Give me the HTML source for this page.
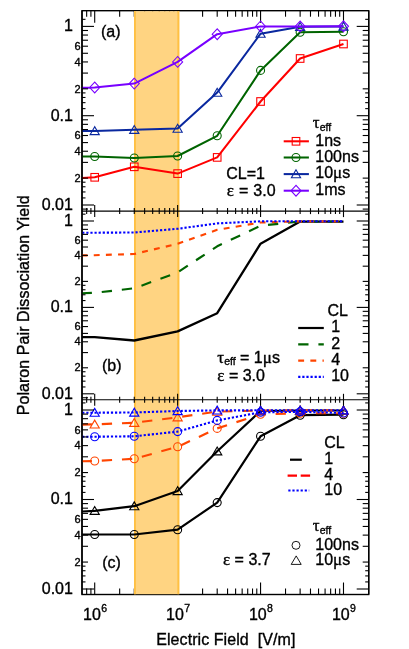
<!DOCTYPE html>
<html><head><meta charset="utf-8"><title>Polaron Pair Dissociation Yield</title>
<style>html,body{margin:0;padding:0;background:#fff}svg{display:block;will-change:transform}text{font-family:"Liberation Sans",sans-serif;fill:#000;stroke:#000;stroke-width:0.35px}</style>
</head><body>
<svg width="409" height="649" viewBox="0 0 409 649">
<rect width="409" height="649" fill="#fff"/>
<rect x="82.0" y="10.7" width="286.7" height="583.8" fill="none" stroke="#000" stroke-width="1.4"/>
<line x1="86.66" y1="10.70" x2="86.66" y2="16.70" stroke="#000" stroke-width="1.1" />
<line x1="90.91" y1="10.70" x2="90.91" y2="16.70" stroke="#000" stroke-width="1.1" />
<line x1="94.70" y1="10.70" x2="94.70" y2="22.70" stroke="#000" stroke-width="1.1" />
<line x1="119.66" y1="10.70" x2="119.66" y2="16.70" stroke="#000" stroke-width="1.1" />
<line x1="134.27" y1="10.70" x2="134.27" y2="16.70" stroke="#000" stroke-width="1.1" />
<line x1="144.63" y1="10.70" x2="144.63" y2="16.70" stroke="#000" stroke-width="1.1" />
<line x1="152.67" y1="10.70" x2="152.67" y2="16.70" stroke="#000" stroke-width="1.1" />
<line x1="159.23" y1="10.70" x2="159.23" y2="16.70" stroke="#000" stroke-width="1.1" />
<line x1="164.78" y1="10.70" x2="164.78" y2="16.70" stroke="#000" stroke-width="1.1" />
<line x1="169.59" y1="10.70" x2="169.59" y2="16.70" stroke="#000" stroke-width="1.1" />
<line x1="173.84" y1="10.70" x2="173.84" y2="16.70" stroke="#000" stroke-width="1.1" />
<line x1="177.63" y1="10.70" x2="177.63" y2="22.70" stroke="#000" stroke-width="1.1" />
<line x1="202.59" y1="10.70" x2="202.59" y2="16.70" stroke="#000" stroke-width="1.1" />
<line x1="217.20" y1="10.70" x2="217.20" y2="16.70" stroke="#000" stroke-width="1.1" />
<line x1="227.56" y1="10.70" x2="227.56" y2="16.70" stroke="#000" stroke-width="1.1" />
<line x1="235.60" y1="10.70" x2="235.60" y2="16.70" stroke="#000" stroke-width="1.1" />
<line x1="242.16" y1="10.70" x2="242.16" y2="16.70" stroke="#000" stroke-width="1.1" />
<line x1="247.71" y1="10.70" x2="247.71" y2="16.70" stroke="#000" stroke-width="1.1" />
<line x1="252.52" y1="10.70" x2="252.52" y2="16.70" stroke="#000" stroke-width="1.1" />
<line x1="256.77" y1="10.70" x2="256.77" y2="16.70" stroke="#000" stroke-width="1.1" />
<line x1="260.56" y1="10.70" x2="260.56" y2="22.70" stroke="#000" stroke-width="1.1" />
<line x1="285.52" y1="10.70" x2="285.52" y2="16.70" stroke="#000" stroke-width="1.1" />
<line x1="300.13" y1="10.70" x2="300.13" y2="16.70" stroke="#000" stroke-width="1.1" />
<line x1="310.49" y1="10.70" x2="310.49" y2="16.70" stroke="#000" stroke-width="1.1" />
<line x1="318.53" y1="10.70" x2="318.53" y2="16.70" stroke="#000" stroke-width="1.1" />
<line x1="325.09" y1="10.70" x2="325.09" y2="16.70" stroke="#000" stroke-width="1.1" />
<line x1="330.64" y1="10.70" x2="330.64" y2="16.70" stroke="#000" stroke-width="1.1" />
<line x1="335.45" y1="10.70" x2="335.45" y2="16.70" stroke="#000" stroke-width="1.1" />
<line x1="339.70" y1="10.70" x2="339.70" y2="16.70" stroke="#000" stroke-width="1.1" />
<line x1="343.49" y1="10.70" x2="343.49" y2="22.70" stroke="#000" stroke-width="1.1" />
<line x1="86.66" y1="594.50" x2="86.66" y2="588.50" stroke="#000" stroke-width="1.1" />
<line x1="90.91" y1="594.50" x2="90.91" y2="588.50" stroke="#000" stroke-width="1.1" />
<line x1="94.70" y1="594.50" x2="94.70" y2="582.50" stroke="#000" stroke-width="1.1" />
<line x1="119.66" y1="594.50" x2="119.66" y2="588.50" stroke="#000" stroke-width="1.1" />
<line x1="134.27" y1="594.50" x2="134.27" y2="588.50" stroke="#000" stroke-width="1.1" />
<line x1="144.63" y1="594.50" x2="144.63" y2="588.50" stroke="#000" stroke-width="1.1" />
<line x1="152.67" y1="594.50" x2="152.67" y2="588.50" stroke="#000" stroke-width="1.1" />
<line x1="159.23" y1="594.50" x2="159.23" y2="588.50" stroke="#000" stroke-width="1.1" />
<line x1="164.78" y1="594.50" x2="164.78" y2="588.50" stroke="#000" stroke-width="1.1" />
<line x1="169.59" y1="594.50" x2="169.59" y2="588.50" stroke="#000" stroke-width="1.1" />
<line x1="173.84" y1="594.50" x2="173.84" y2="588.50" stroke="#000" stroke-width="1.1" />
<line x1="177.63" y1="594.50" x2="177.63" y2="582.50" stroke="#000" stroke-width="1.1" />
<line x1="202.59" y1="594.50" x2="202.59" y2="588.50" stroke="#000" stroke-width="1.1" />
<line x1="217.20" y1="594.50" x2="217.20" y2="588.50" stroke="#000" stroke-width="1.1" />
<line x1="227.56" y1="594.50" x2="227.56" y2="588.50" stroke="#000" stroke-width="1.1" />
<line x1="235.60" y1="594.50" x2="235.60" y2="588.50" stroke="#000" stroke-width="1.1" />
<line x1="242.16" y1="594.50" x2="242.16" y2="588.50" stroke="#000" stroke-width="1.1" />
<line x1="247.71" y1="594.50" x2="247.71" y2="588.50" stroke="#000" stroke-width="1.1" />
<line x1="252.52" y1="594.50" x2="252.52" y2="588.50" stroke="#000" stroke-width="1.1" />
<line x1="256.77" y1="594.50" x2="256.77" y2="588.50" stroke="#000" stroke-width="1.1" />
<line x1="260.56" y1="594.50" x2="260.56" y2="582.50" stroke="#000" stroke-width="1.1" />
<line x1="285.52" y1="594.50" x2="285.52" y2="588.50" stroke="#000" stroke-width="1.1" />
<line x1="300.13" y1="594.50" x2="300.13" y2="588.50" stroke="#000" stroke-width="1.1" />
<line x1="310.49" y1="594.50" x2="310.49" y2="588.50" stroke="#000" stroke-width="1.1" />
<line x1="318.53" y1="594.50" x2="318.53" y2="588.50" stroke="#000" stroke-width="1.1" />
<line x1="325.09" y1="594.50" x2="325.09" y2="588.50" stroke="#000" stroke-width="1.1" />
<line x1="330.64" y1="594.50" x2="330.64" y2="588.50" stroke="#000" stroke-width="1.1" />
<line x1="335.45" y1="594.50" x2="335.45" y2="588.50" stroke="#000" stroke-width="1.1" />
<line x1="339.70" y1="594.50" x2="339.70" y2="588.50" stroke="#000" stroke-width="1.1" />
<line x1="343.49" y1="594.50" x2="343.49" y2="582.50" stroke="#000" stroke-width="1.1" />
<rect x="134.0" y="11.2" width="45.30000000000001" height="583.0" fill="#FFD482"/>
<rect x="134.0" y="11.2" width="1.9" height="583.0" fill="#FFC043"/>
<rect x="177.4" y="11.2" width="1.9" height="583.0" fill="#FFC043"/>
<clipPath id="cp"><rect x="82.0" y="10.7" width="286.7" height="583.8"/></clipPath><g clip-path="url(#cp)">
<polyline points="81.60,178.00 94.70,177.30 134.27,166.80 177.63,173.60 217.20,157.40 260.56,101.50 300.13,58.50 343.49,44.00" fill="none" stroke="#FF0000" stroke-width="2.05" stroke-linejoin="round" />
<rect x="90.90" y="173.50" width="7.6" height="7.6" fill="none" stroke="#FF0000" stroke-width="1.1"/>
<rect x="130.47" y="163.00" width="7.6" height="7.6" fill="none" stroke="#FF0000" stroke-width="1.1"/>
<rect x="173.83" y="169.80" width="7.6" height="7.6" fill="none" stroke="#FF0000" stroke-width="1.1"/>
<rect x="213.40" y="153.60" width="7.6" height="7.6" fill="none" stroke="#FF0000" stroke-width="1.1"/>
<rect x="256.76" y="97.70" width="7.6" height="7.6" fill="none" stroke="#FF0000" stroke-width="1.1"/>
<rect x="296.33" y="54.70" width="7.6" height="7.6" fill="none" stroke="#FF0000" stroke-width="1.1"/>
<rect x="339.69" y="40.20" width="7.6" height="7.6" fill="none" stroke="#FF0000" stroke-width="1.1"/>
<polyline points="81.60,156.40 94.70,156.50 134.27,158.00 177.63,156.00 217.20,135.80 260.56,70.40 300.13,32.20 343.49,31.80" fill="none" stroke="#006400" stroke-width="2.05" stroke-linejoin="round" />
<circle cx="94.70" cy="156.50" r="4" fill="none" stroke="#006400" stroke-width="1.1"/>
<circle cx="134.27" cy="158.00" r="4" fill="none" stroke="#006400" stroke-width="1.1"/>
<circle cx="177.63" cy="156.00" r="4" fill="none" stroke="#006400" stroke-width="1.1"/>
<circle cx="217.20" cy="135.80" r="4" fill="none" stroke="#006400" stroke-width="1.1"/>
<circle cx="260.56" cy="70.40" r="4" fill="none" stroke="#006400" stroke-width="1.1"/>
<circle cx="300.13" cy="32.20" r="4" fill="none" stroke="#006400" stroke-width="1.1"/>
<circle cx="343.49" cy="31.80" r="4" fill="none" stroke="#006400" stroke-width="1.1"/>
<polyline points="81.60,131.10 94.70,131.00 134.27,129.80 177.63,128.60 217.20,92.60 260.56,33.70 300.13,26.80 343.49,26.50" fill="none" stroke="#0A289F" stroke-width="2.05" stroke-linejoin="round" />
<polygon points="94.70,126.70 90.10,134.60 99.30,134.60" fill="none" stroke="#0A289F" stroke-width="1.1"/>
<polygon points="134.27,125.50 129.67,133.40 138.87,133.40" fill="none" stroke="#0A289F" stroke-width="1.1"/>
<polygon points="177.63,124.30 173.03,132.20 182.23,132.20" fill="none" stroke="#0A289F" stroke-width="1.1"/>
<polygon points="217.20,88.30 212.60,96.20 221.80,96.20" fill="none" stroke="#0A289F" stroke-width="1.1"/>
<polygon points="260.56,29.40 255.96,37.30 265.16,37.30" fill="none" stroke="#0A289F" stroke-width="1.1"/>
<polygon points="300.13,22.50 295.53,30.40 304.73,30.40" fill="none" stroke="#0A289F" stroke-width="1.1"/>
<polygon points="343.49,22.20 338.89,30.10 348.09,30.10" fill="none" stroke="#0A289F" stroke-width="1.1"/>
<polyline points="81.60,87.90 94.70,87.50 134.27,83.60 177.63,61.90 217.20,34.20 260.56,26.40 300.13,26.50 343.49,26.30" fill="none" stroke="#7800FF" stroke-width="2.05" stroke-linejoin="round" />
<polygon points="94.70,82.10 89.70,87.50 94.70,92.90 99.70,87.50" fill="none" stroke="#7800FF" stroke-width="1.1"/>
<polygon points="134.27,78.20 129.27,83.60 134.27,89.00 139.27,83.60" fill="none" stroke="#7800FF" stroke-width="1.1"/>
<polygon points="177.63,56.50 172.63,61.90 177.63,67.30 182.63,61.90" fill="none" stroke="#7800FF" stroke-width="1.1"/>
<polygon points="217.20,28.80 212.20,34.20 217.20,39.60 222.20,34.20" fill="none" stroke="#7800FF" stroke-width="1.1"/>
<polygon points="260.56,21.00 255.56,26.40 260.56,31.80 265.56,26.40" fill="none" stroke="#7800FF" stroke-width="1.1"/>
<polygon points="300.13,21.10 295.13,26.50 300.13,31.90 305.13,26.50" fill="none" stroke="#7800FF" stroke-width="1.1"/>
<polygon points="343.49,20.90 338.49,26.30 343.49,31.70 348.49,26.30" fill="none" stroke="#7800FF" stroke-width="1.1"/>
<polyline points="81.60,337.20 94.70,337.20 134.27,340.50 177.63,331.40 217.20,313.20 260.56,243.70 300.13,221.60 343.49,221.60" fill="none" stroke="#000" stroke-width="2.3" stroke-linejoin="round" />
<polyline points="81.60,293.30 94.70,292.80 134.27,288.30 177.63,272.40 217.20,246.30 260.56,225.70 300.13,221.50 343.49,221.50" fill="none" stroke="#006400" stroke-width="2.15" stroke-linejoin="round" stroke-dasharray="10.3 9.9" stroke-dashoffset="0"/>
<polyline points="81.60,255.40 94.70,255.20 134.27,254.00 177.63,243.80 217.20,229.80 260.56,222.50 300.13,221.30 343.49,221.30" fill="none" stroke="#FF4500" stroke-width="2.15" stroke-linejoin="round" stroke-dasharray="5.9 6.25" stroke-dashoffset="0"/>
<polyline points="81.60,232.80 94.70,232.70 134.27,232.50 177.63,228.80 217.20,223.40 260.56,221.30 300.13,221.20 343.49,221.20" fill="none" stroke="#0000FF" stroke-width="2.1" stroke-linejoin="round" stroke-dasharray="2.2 1.9" stroke-dashoffset="-0.6"/>
<polyline points="81.60,534.50 94.70,534.50 134.27,534.50 177.63,529.70 217.20,502.60 260.56,436.30 300.13,415.20 343.49,414.70" fill="none" stroke="#000" stroke-width="2.2" stroke-linejoin="round" />
<circle cx="94.70" cy="534.50" r="4" fill="none" stroke="#000" stroke-width="1.1"/>
<circle cx="134.27" cy="534.50" r="4" fill="none" stroke="#000" stroke-width="1.1"/>
<circle cx="177.63" cy="529.70" r="4" fill="none" stroke="#000" stroke-width="1.1"/>
<circle cx="217.20" cy="502.60" r="4" fill="none" stroke="#000" stroke-width="1.1"/>
<circle cx="260.56" cy="436.30" r="4" fill="none" stroke="#000" stroke-width="1.1"/>
<circle cx="300.13" cy="415.20" r="4" fill="none" stroke="#000" stroke-width="1.1"/>
<circle cx="343.49" cy="414.70" r="4" fill="none" stroke="#000" stroke-width="1.1"/>
<polyline points="81.60,511.50 94.70,510.80 134.27,506.20 177.63,491.00 217.20,451.30 260.56,411.00 300.13,410.50 343.49,410.50" fill="none" stroke="#000" stroke-width="2.2" stroke-linejoin="round" />
<polygon points="94.70,506.50 90.10,514.40 99.30,514.40" fill="none" stroke="#000" stroke-width="1.1"/>
<polygon points="134.27,501.90 129.67,509.80 138.87,509.80" fill="none" stroke="#000" stroke-width="1.1"/>
<polygon points="177.63,486.70 173.03,494.60 182.23,494.60" fill="none" stroke="#000" stroke-width="1.1"/>
<polygon points="217.20,447.00 212.60,454.90 221.80,454.90" fill="none" stroke="#000" stroke-width="1.1"/>
<polygon points="260.56,406.70 255.96,414.60 265.16,414.60" fill="none" stroke="#000" stroke-width="1.1"/>
<polygon points="300.13,406.20 295.53,414.10 304.73,414.10" fill="none" stroke="#000" stroke-width="1.1"/>
<polygon points="343.49,406.20 338.89,414.10 348.09,414.10" fill="none" stroke="#000" stroke-width="1.1"/>
<polyline points="81.60,461.30 94.70,461.00 134.27,458.80 177.63,446.80 217.20,428.40 260.56,414.30 300.13,413.30 343.49,413.20" fill="none" stroke="#FF4500" stroke-width="2.15" stroke-linejoin="round" stroke-dasharray="10.3 9.9" stroke-dashoffset="0"/>
<circle cx="94.70" cy="461.00" r="4" fill="none" stroke="#FF4500" stroke-width="1.1"/>
<circle cx="134.27" cy="458.80" r="4" fill="none" stroke="#FF4500" stroke-width="1.1"/>
<circle cx="177.63" cy="446.80" r="4" fill="none" stroke="#FF4500" stroke-width="1.1"/>
<circle cx="217.20" cy="428.40" r="4" fill="none" stroke="#FF4500" stroke-width="1.1"/>
<circle cx="260.56" cy="414.30" r="4" fill="none" stroke="#FF4500" stroke-width="1.1"/>
<circle cx="300.13" cy="413.30" r="4" fill="none" stroke="#FF4500" stroke-width="1.1"/>
<circle cx="343.49" cy="413.20" r="4" fill="none" stroke="#FF4500" stroke-width="1.1"/>
<polyline points="81.60,424.60 94.70,424.40 134.27,422.80 177.63,417.30 217.20,411.60 260.56,410.60 300.13,410.40 343.49,410.40" fill="none" stroke="#FF4500" stroke-width="2.15" stroke-linejoin="round" stroke-dasharray="10.3 9.9" stroke-dashoffset="0"/>
<polygon points="94.70,420.10 90.10,428.00 99.30,428.00" fill="none" stroke="#FF4500" stroke-width="1.1"/>
<polygon points="134.27,418.50 129.67,426.40 138.87,426.40" fill="none" stroke="#FF4500" stroke-width="1.1"/>
<polygon points="177.63,413.00 173.03,420.90 182.23,420.90" fill="none" stroke="#FF4500" stroke-width="1.1"/>
<polygon points="217.20,407.30 212.60,415.20 221.80,415.20" fill="none" stroke="#FF4500" stroke-width="1.1"/>
<polygon points="260.56,406.30 255.96,414.20 265.16,414.20" fill="none" stroke="#FF4500" stroke-width="1.1"/>
<polygon points="300.13,406.10 295.53,414.00 304.73,414.00" fill="none" stroke="#FF4500" stroke-width="1.1"/>
<polygon points="343.49,406.10 338.89,414.00 348.09,414.00" fill="none" stroke="#FF4500" stroke-width="1.1"/>
<polyline points="81.60,436.70 94.70,436.70 134.27,436.30 177.63,431.60 217.20,420.40 260.56,412.30 300.13,411.80 343.49,413.00" fill="none" stroke="#0000FF" stroke-width="2.1" stroke-linejoin="round" stroke-dasharray="2.2 1.9" stroke-dashoffset="-0.6"/>
<circle cx="94.70" cy="436.70" r="4" fill="none" stroke="#0000FF" stroke-width="1.1"/>
<circle cx="134.27" cy="436.30" r="4" fill="none" stroke="#0000FF" stroke-width="1.1"/>
<circle cx="177.63" cy="431.60" r="4" fill="none" stroke="#0000FF" stroke-width="1.1"/>
<circle cx="217.20" cy="420.40" r="4" fill="none" stroke="#0000FF" stroke-width="1.1"/>
<circle cx="260.56" cy="412.30" r="4" fill="none" stroke="#0000FF" stroke-width="1.1"/>
<circle cx="300.13" cy="411.80" r="4" fill="none" stroke="#0000FF" stroke-width="1.1"/>
<circle cx="343.49" cy="413.00" r="4" fill="none" stroke="#0000FF" stroke-width="1.1"/>
<polyline points="81.60,412.80 94.70,412.70 134.27,412.50 177.63,411.00 217.20,410.40 260.56,410.30 300.13,410.30 343.49,410.30" fill="none" stroke="#0000FF" stroke-width="2.1" stroke-linejoin="round" stroke-dasharray="2.2 1.9" stroke-dashoffset="-0.6"/>
<polygon points="94.70,408.40 90.10,416.30 99.30,416.30" fill="none" stroke="#0000FF" stroke-width="1.1"/>
<polygon points="134.27,408.20 129.67,416.10 138.87,416.10" fill="none" stroke="#0000FF" stroke-width="1.1"/>
<polygon points="177.63,406.70 173.03,414.60 182.23,414.60" fill="none" stroke="#0000FF" stroke-width="1.1"/>
<polygon points="217.20,406.10 212.60,414.00 221.80,414.00" fill="none" stroke="#0000FF" stroke-width="1.1"/>
<polygon points="260.56,406.00 255.96,413.90 265.16,413.90" fill="none" stroke="#0000FF" stroke-width="1.1"/>
<polygon points="300.13,406.00 295.53,413.90 304.73,413.90" fill="none" stroke="#0000FF" stroke-width="1.1"/>
<polygon points="343.49,406.00 338.89,413.90 348.09,413.90" fill="none" stroke="#0000FF" stroke-width="1.1"/>
</g>
<line x1="82.00" y1="211.10" x2="368.70" y2="211.10" stroke="#000" stroke-width="1.1" />
<line x1="86.66" y1="211.10" x2="86.66" y2="214.10" stroke="#000" stroke-width="1.1" />
<line x1="86.66" y1="211.10" x2="86.66" y2="208.10" stroke="#000" stroke-width="1.1" />
<line x1="90.91" y1="211.10" x2="90.91" y2="214.10" stroke="#000" stroke-width="1.1" />
<line x1="90.91" y1="211.10" x2="90.91" y2="208.10" stroke="#000" stroke-width="1.1" />
<line x1="94.70" y1="211.10" x2="94.70" y2="217.10" stroke="#000" stroke-width="1.1" />
<line x1="94.70" y1="211.10" x2="94.70" y2="205.10" stroke="#000" stroke-width="1.1" />
<line x1="119.66" y1="211.10" x2="119.66" y2="214.10" stroke="#000" stroke-width="1.1" />
<line x1="119.66" y1="211.10" x2="119.66" y2="208.10" stroke="#000" stroke-width="1.1" />
<line x1="134.27" y1="211.10" x2="134.27" y2="214.10" stroke="#000" stroke-width="1.1" />
<line x1="134.27" y1="211.10" x2="134.27" y2="208.10" stroke="#000" stroke-width="1.1" />
<line x1="144.63" y1="211.10" x2="144.63" y2="214.10" stroke="#000" stroke-width="1.1" />
<line x1="144.63" y1="211.10" x2="144.63" y2="208.10" stroke="#000" stroke-width="1.1" />
<line x1="152.67" y1="211.10" x2="152.67" y2="214.10" stroke="#000" stroke-width="1.1" />
<line x1="152.67" y1="211.10" x2="152.67" y2="208.10" stroke="#000" stroke-width="1.1" />
<line x1="159.23" y1="211.10" x2="159.23" y2="214.10" stroke="#000" stroke-width="1.1" />
<line x1="159.23" y1="211.10" x2="159.23" y2="208.10" stroke="#000" stroke-width="1.1" />
<line x1="164.78" y1="211.10" x2="164.78" y2="214.10" stroke="#000" stroke-width="1.1" />
<line x1="164.78" y1="211.10" x2="164.78" y2="208.10" stroke="#000" stroke-width="1.1" />
<line x1="169.59" y1="211.10" x2="169.59" y2="214.10" stroke="#000" stroke-width="1.1" />
<line x1="169.59" y1="211.10" x2="169.59" y2="208.10" stroke="#000" stroke-width="1.1" />
<line x1="173.84" y1="211.10" x2="173.84" y2="214.10" stroke="#000" stroke-width="1.1" />
<line x1="173.84" y1="211.10" x2="173.84" y2="208.10" stroke="#000" stroke-width="1.1" />
<line x1="177.63" y1="211.10" x2="177.63" y2="217.10" stroke="#000" stroke-width="1.1" />
<line x1="177.63" y1="211.10" x2="177.63" y2="205.10" stroke="#000" stroke-width="1.1" />
<line x1="202.59" y1="211.10" x2="202.59" y2="214.10" stroke="#000" stroke-width="1.1" />
<line x1="202.59" y1="211.10" x2="202.59" y2="208.10" stroke="#000" stroke-width="1.1" />
<line x1="217.20" y1="211.10" x2="217.20" y2="214.10" stroke="#000" stroke-width="1.1" />
<line x1="217.20" y1="211.10" x2="217.20" y2="208.10" stroke="#000" stroke-width="1.1" />
<line x1="227.56" y1="211.10" x2="227.56" y2="214.10" stroke="#000" stroke-width="1.1" />
<line x1="227.56" y1="211.10" x2="227.56" y2="208.10" stroke="#000" stroke-width="1.1" />
<line x1="235.60" y1="211.10" x2="235.60" y2="214.10" stroke="#000" stroke-width="1.1" />
<line x1="235.60" y1="211.10" x2="235.60" y2="208.10" stroke="#000" stroke-width="1.1" />
<line x1="242.16" y1="211.10" x2="242.16" y2="214.10" stroke="#000" stroke-width="1.1" />
<line x1="242.16" y1="211.10" x2="242.16" y2="208.10" stroke="#000" stroke-width="1.1" />
<line x1="247.71" y1="211.10" x2="247.71" y2="214.10" stroke="#000" stroke-width="1.1" />
<line x1="247.71" y1="211.10" x2="247.71" y2="208.10" stroke="#000" stroke-width="1.1" />
<line x1="252.52" y1="211.10" x2="252.52" y2="214.10" stroke="#000" stroke-width="1.1" />
<line x1="252.52" y1="211.10" x2="252.52" y2="208.10" stroke="#000" stroke-width="1.1" />
<line x1="256.77" y1="211.10" x2="256.77" y2="214.10" stroke="#000" stroke-width="1.1" />
<line x1="256.77" y1="211.10" x2="256.77" y2="208.10" stroke="#000" stroke-width="1.1" />
<line x1="260.56" y1="211.10" x2="260.56" y2="217.10" stroke="#000" stroke-width="1.1" />
<line x1="260.56" y1="211.10" x2="260.56" y2="205.10" stroke="#000" stroke-width="1.1" />
<line x1="285.52" y1="211.10" x2="285.52" y2="214.10" stroke="#000" stroke-width="1.1" />
<line x1="285.52" y1="211.10" x2="285.52" y2="208.10" stroke="#000" stroke-width="1.1" />
<line x1="300.13" y1="211.10" x2="300.13" y2="214.10" stroke="#000" stroke-width="1.1" />
<line x1="300.13" y1="211.10" x2="300.13" y2="208.10" stroke="#000" stroke-width="1.1" />
<line x1="310.49" y1="211.10" x2="310.49" y2="214.10" stroke="#000" stroke-width="1.1" />
<line x1="310.49" y1="211.10" x2="310.49" y2="208.10" stroke="#000" stroke-width="1.1" />
<line x1="318.53" y1="211.10" x2="318.53" y2="214.10" stroke="#000" stroke-width="1.1" />
<line x1="318.53" y1="211.10" x2="318.53" y2="208.10" stroke="#000" stroke-width="1.1" />
<line x1="325.09" y1="211.10" x2="325.09" y2="214.10" stroke="#000" stroke-width="1.1" />
<line x1="325.09" y1="211.10" x2="325.09" y2="208.10" stroke="#000" stroke-width="1.1" />
<line x1="330.64" y1="211.10" x2="330.64" y2="214.10" stroke="#000" stroke-width="1.1" />
<line x1="330.64" y1="211.10" x2="330.64" y2="208.10" stroke="#000" stroke-width="1.1" />
<line x1="335.45" y1="211.10" x2="335.45" y2="214.10" stroke="#000" stroke-width="1.1" />
<line x1="335.45" y1="211.10" x2="335.45" y2="208.10" stroke="#000" stroke-width="1.1" />
<line x1="339.70" y1="211.10" x2="339.70" y2="214.10" stroke="#000" stroke-width="1.1" />
<line x1="339.70" y1="211.10" x2="339.70" y2="208.10" stroke="#000" stroke-width="1.1" />
<line x1="343.49" y1="211.10" x2="343.49" y2="217.10" stroke="#000" stroke-width="1.1" />
<line x1="343.49" y1="211.10" x2="343.49" y2="205.10" stroke="#000" stroke-width="1.1" />
<line x1="82.00" y1="399.80" x2="368.70" y2="399.80" stroke="#000" stroke-width="1.1" />
<line x1="86.66" y1="399.80" x2="86.66" y2="402.80" stroke="#000" stroke-width="1.1" />
<line x1="86.66" y1="399.80" x2="86.66" y2="396.80" stroke="#000" stroke-width="1.1" />
<line x1="90.91" y1="399.80" x2="90.91" y2="402.80" stroke="#000" stroke-width="1.1" />
<line x1="90.91" y1="399.80" x2="90.91" y2="396.80" stroke="#000" stroke-width="1.1" />
<line x1="94.70" y1="399.80" x2="94.70" y2="405.80" stroke="#000" stroke-width="1.1" />
<line x1="94.70" y1="399.80" x2="94.70" y2="393.80" stroke="#000" stroke-width="1.1" />
<line x1="119.66" y1="399.80" x2="119.66" y2="402.80" stroke="#000" stroke-width="1.1" />
<line x1="119.66" y1="399.80" x2="119.66" y2="396.80" stroke="#000" stroke-width="1.1" />
<line x1="134.27" y1="399.80" x2="134.27" y2="402.80" stroke="#000" stroke-width="1.1" />
<line x1="134.27" y1="399.80" x2="134.27" y2="396.80" stroke="#000" stroke-width="1.1" />
<line x1="144.63" y1="399.80" x2="144.63" y2="402.80" stroke="#000" stroke-width="1.1" />
<line x1="144.63" y1="399.80" x2="144.63" y2="396.80" stroke="#000" stroke-width="1.1" />
<line x1="152.67" y1="399.80" x2="152.67" y2="402.80" stroke="#000" stroke-width="1.1" />
<line x1="152.67" y1="399.80" x2="152.67" y2="396.80" stroke="#000" stroke-width="1.1" />
<line x1="159.23" y1="399.80" x2="159.23" y2="402.80" stroke="#000" stroke-width="1.1" />
<line x1="159.23" y1="399.80" x2="159.23" y2="396.80" stroke="#000" stroke-width="1.1" />
<line x1="164.78" y1="399.80" x2="164.78" y2="402.80" stroke="#000" stroke-width="1.1" />
<line x1="164.78" y1="399.80" x2="164.78" y2="396.80" stroke="#000" stroke-width="1.1" />
<line x1="169.59" y1="399.80" x2="169.59" y2="402.80" stroke="#000" stroke-width="1.1" />
<line x1="169.59" y1="399.80" x2="169.59" y2="396.80" stroke="#000" stroke-width="1.1" />
<line x1="173.84" y1="399.80" x2="173.84" y2="402.80" stroke="#000" stroke-width="1.1" />
<line x1="173.84" y1="399.80" x2="173.84" y2="396.80" stroke="#000" stroke-width="1.1" />
<line x1="177.63" y1="399.80" x2="177.63" y2="405.80" stroke="#000" stroke-width="1.1" />
<line x1="177.63" y1="399.80" x2="177.63" y2="393.80" stroke="#000" stroke-width="1.1" />
<line x1="202.59" y1="399.80" x2="202.59" y2="402.80" stroke="#000" stroke-width="1.1" />
<line x1="202.59" y1="399.80" x2="202.59" y2="396.80" stroke="#000" stroke-width="1.1" />
<line x1="217.20" y1="399.80" x2="217.20" y2="402.80" stroke="#000" stroke-width="1.1" />
<line x1="217.20" y1="399.80" x2="217.20" y2="396.80" stroke="#000" stroke-width="1.1" />
<line x1="227.56" y1="399.80" x2="227.56" y2="402.80" stroke="#000" stroke-width="1.1" />
<line x1="227.56" y1="399.80" x2="227.56" y2="396.80" stroke="#000" stroke-width="1.1" />
<line x1="235.60" y1="399.80" x2="235.60" y2="402.80" stroke="#000" stroke-width="1.1" />
<line x1="235.60" y1="399.80" x2="235.60" y2="396.80" stroke="#000" stroke-width="1.1" />
<line x1="242.16" y1="399.80" x2="242.16" y2="402.80" stroke="#000" stroke-width="1.1" />
<line x1="242.16" y1="399.80" x2="242.16" y2="396.80" stroke="#000" stroke-width="1.1" />
<line x1="247.71" y1="399.80" x2="247.71" y2="402.80" stroke="#000" stroke-width="1.1" />
<line x1="247.71" y1="399.80" x2="247.71" y2="396.80" stroke="#000" stroke-width="1.1" />
<line x1="252.52" y1="399.80" x2="252.52" y2="402.80" stroke="#000" stroke-width="1.1" />
<line x1="252.52" y1="399.80" x2="252.52" y2="396.80" stroke="#000" stroke-width="1.1" />
<line x1="256.77" y1="399.80" x2="256.77" y2="402.80" stroke="#000" stroke-width="1.1" />
<line x1="256.77" y1="399.80" x2="256.77" y2="396.80" stroke="#000" stroke-width="1.1" />
<line x1="260.56" y1="399.80" x2="260.56" y2="405.80" stroke="#000" stroke-width="1.1" />
<line x1="260.56" y1="399.80" x2="260.56" y2="393.80" stroke="#000" stroke-width="1.1" />
<line x1="285.52" y1="399.80" x2="285.52" y2="402.80" stroke="#000" stroke-width="1.1" />
<line x1="285.52" y1="399.80" x2="285.52" y2="396.80" stroke="#000" stroke-width="1.1" />
<line x1="300.13" y1="399.80" x2="300.13" y2="402.80" stroke="#000" stroke-width="1.1" />
<line x1="300.13" y1="399.80" x2="300.13" y2="396.80" stroke="#000" stroke-width="1.1" />
<line x1="310.49" y1="399.80" x2="310.49" y2="402.80" stroke="#000" stroke-width="1.1" />
<line x1="310.49" y1="399.80" x2="310.49" y2="396.80" stroke="#000" stroke-width="1.1" />
<line x1="318.53" y1="399.80" x2="318.53" y2="402.80" stroke="#000" stroke-width="1.1" />
<line x1="318.53" y1="399.80" x2="318.53" y2="396.80" stroke="#000" stroke-width="1.1" />
<line x1="325.09" y1="399.80" x2="325.09" y2="402.80" stroke="#000" stroke-width="1.1" />
<line x1="325.09" y1="399.80" x2="325.09" y2="396.80" stroke="#000" stroke-width="1.1" />
<line x1="330.64" y1="399.80" x2="330.64" y2="402.80" stroke="#000" stroke-width="1.1" />
<line x1="330.64" y1="399.80" x2="330.64" y2="396.80" stroke="#000" stroke-width="1.1" />
<line x1="335.45" y1="399.80" x2="335.45" y2="402.80" stroke="#000" stroke-width="1.1" />
<line x1="335.45" y1="399.80" x2="335.45" y2="396.80" stroke="#000" stroke-width="1.1" />
<line x1="339.70" y1="399.80" x2="339.70" y2="402.80" stroke="#000" stroke-width="1.1" />
<line x1="339.70" y1="399.80" x2="339.70" y2="396.80" stroke="#000" stroke-width="1.1" />
<line x1="343.49" y1="399.80" x2="343.49" y2="405.80" stroke="#000" stroke-width="1.1" />
<line x1="343.49" y1="399.80" x2="343.49" y2="393.80" stroke="#000" stroke-width="1.1" />
<line x1="82.00" y1="10.70" x2="82.00" y2="594.50" stroke="#000" stroke-width="1.4" />
<line x1="368.70" y1="10.70" x2="368.70" y2="594.50" stroke="#000" stroke-width="1.4" />
<line x1="82.00" y1="209.09" x2="88.00" y2="209.09" stroke="#000" stroke-width="1.1" />
<line x1="368.70" y1="209.09" x2="362.70" y2="209.09" stroke="#000" stroke-width="1.1" />
<line x1="82.00" y1="205.00" x2="94.00" y2="205.00" stroke="#000" stroke-width="1.1" />
<line x1="368.70" y1="205.00" x2="356.70" y2="205.00" stroke="#000" stroke-width="1.1" />
<text x="72.90" y="209.90" font-size="16" text-anchor="end" >0.01</text>
<line x1="82.00" y1="197.93" x2="85.50" y2="197.93" stroke="#000" stroke-width="1.1" />
<line x1="368.70" y1="197.93" x2="365.20" y2="197.93" stroke="#000" stroke-width="1.1" />
<line x1="82.00" y1="191.95" x2="85.50" y2="191.95" stroke="#000" stroke-width="1.1" />
<line x1="368.70" y1="191.95" x2="365.20" y2="191.95" stroke="#000" stroke-width="1.1" />
<line x1="82.00" y1="186.77" x2="85.50" y2="186.77" stroke="#000" stroke-width="1.1" />
<line x1="368.70" y1="186.77" x2="365.20" y2="186.77" stroke="#000" stroke-width="1.1" />
<line x1="82.00" y1="182.20" x2="85.50" y2="182.20" stroke="#000" stroke-width="1.1" />
<line x1="368.70" y1="182.20" x2="365.20" y2="182.20" stroke="#000" stroke-width="1.1" />
<line x1="82.00" y1="178.12" x2="88.00" y2="178.12" stroke="#000" stroke-width="1.1" />
<line x1="368.70" y1="178.12" x2="362.70" y2="178.12" stroke="#000" stroke-width="1.1" />
<text x="80.70" y="181.82" font-size="11" text-anchor="end" >2</text>
<line x1="82.00" y1="162.39" x2="88.00" y2="162.39" stroke="#000" stroke-width="1.1" />
<line x1="368.70" y1="162.39" x2="362.70" y2="162.39" stroke="#000" stroke-width="1.1" />
<line x1="82.00" y1="151.24" x2="88.00" y2="151.24" stroke="#000" stroke-width="1.1" />
<line x1="368.70" y1="151.24" x2="362.70" y2="151.24" stroke="#000" stroke-width="1.1" />
<text x="80.70" y="154.94" font-size="11" text-anchor="end" >4</text>
<line x1="82.00" y1="142.58" x2="88.00" y2="142.58" stroke="#000" stroke-width="1.1" />
<line x1="368.70" y1="142.58" x2="362.70" y2="142.58" stroke="#000" stroke-width="1.1" />
<line x1="82.00" y1="135.51" x2="88.00" y2="135.51" stroke="#000" stroke-width="1.1" />
<line x1="368.70" y1="135.51" x2="362.70" y2="135.51" stroke="#000" stroke-width="1.1" />
<text x="80.70" y="139.21" font-size="11" text-anchor="end" >6</text>
<line x1="82.00" y1="129.53" x2="88.00" y2="129.53" stroke="#000" stroke-width="1.1" />
<line x1="368.70" y1="129.53" x2="362.70" y2="129.53" stroke="#000" stroke-width="1.1" />
<line x1="82.00" y1="124.35" x2="88.00" y2="124.35" stroke="#000" stroke-width="1.1" />
<line x1="368.70" y1="124.35" x2="362.70" y2="124.35" stroke="#000" stroke-width="1.1" />
<line x1="82.00" y1="119.79" x2="88.00" y2="119.79" stroke="#000" stroke-width="1.1" />
<line x1="368.70" y1="119.79" x2="362.70" y2="119.79" stroke="#000" stroke-width="1.1" />
<line x1="82.00" y1="115.70" x2="94.00" y2="115.70" stroke="#000" stroke-width="1.1" />
<line x1="368.70" y1="115.70" x2="356.70" y2="115.70" stroke="#000" stroke-width="1.1" />
<text x="72.90" y="120.60" font-size="16" text-anchor="end" >0.1</text>
<line x1="82.00" y1="108.63" x2="85.50" y2="108.63" stroke="#000" stroke-width="1.1" />
<line x1="368.70" y1="108.63" x2="365.20" y2="108.63" stroke="#000" stroke-width="1.1" />
<line x1="82.00" y1="102.65" x2="85.50" y2="102.65" stroke="#000" stroke-width="1.1" />
<line x1="368.70" y1="102.65" x2="365.20" y2="102.65" stroke="#000" stroke-width="1.1" />
<line x1="82.00" y1="97.47" x2="85.50" y2="97.47" stroke="#000" stroke-width="1.1" />
<line x1="368.70" y1="97.47" x2="365.20" y2="97.47" stroke="#000" stroke-width="1.1" />
<line x1="82.00" y1="92.90" x2="85.50" y2="92.90" stroke="#000" stroke-width="1.1" />
<line x1="368.70" y1="92.90" x2="365.20" y2="92.90" stroke="#000" stroke-width="1.1" />
<line x1="82.00" y1="88.82" x2="88.00" y2="88.82" stroke="#000" stroke-width="1.1" />
<line x1="368.70" y1="88.82" x2="362.70" y2="88.82" stroke="#000" stroke-width="1.1" />
<text x="80.70" y="92.52" font-size="11" text-anchor="end" >2</text>
<line x1="82.00" y1="73.09" x2="88.00" y2="73.09" stroke="#000" stroke-width="1.1" />
<line x1="368.70" y1="73.09" x2="362.70" y2="73.09" stroke="#000" stroke-width="1.1" />
<line x1="82.00" y1="61.94" x2="88.00" y2="61.94" stroke="#000" stroke-width="1.1" />
<line x1="368.70" y1="61.94" x2="362.70" y2="61.94" stroke="#000" stroke-width="1.1" />
<text x="80.70" y="65.64" font-size="11" text-anchor="end" >4</text>
<line x1="82.00" y1="53.28" x2="88.00" y2="53.28" stroke="#000" stroke-width="1.1" />
<line x1="368.70" y1="53.28" x2="362.70" y2="53.28" stroke="#000" stroke-width="1.1" />
<line x1="82.00" y1="46.21" x2="88.00" y2="46.21" stroke="#000" stroke-width="1.1" />
<line x1="368.70" y1="46.21" x2="362.70" y2="46.21" stroke="#000" stroke-width="1.1" />
<text x="80.70" y="49.91" font-size="11" text-anchor="end" >6</text>
<line x1="82.00" y1="40.23" x2="88.00" y2="40.23" stroke="#000" stroke-width="1.1" />
<line x1="368.70" y1="40.23" x2="362.70" y2="40.23" stroke="#000" stroke-width="1.1" />
<line x1="82.00" y1="35.05" x2="88.00" y2="35.05" stroke="#000" stroke-width="1.1" />
<line x1="368.70" y1="35.05" x2="362.70" y2="35.05" stroke="#000" stroke-width="1.1" />
<line x1="82.00" y1="30.49" x2="88.00" y2="30.49" stroke="#000" stroke-width="1.1" />
<line x1="368.70" y1="30.49" x2="362.70" y2="30.49" stroke="#000" stroke-width="1.1" />
<line x1="82.00" y1="26.40" x2="94.00" y2="26.40" stroke="#000" stroke-width="1.1" />
<line x1="368.70" y1="26.40" x2="356.70" y2="26.40" stroke="#000" stroke-width="1.1" />
<text x="72.90" y="31.30" font-size="16" text-anchor="end" >1</text>
<line x1="82.00" y1="19.33" x2="85.50" y2="19.33" stroke="#000" stroke-width="1.1" />
<line x1="368.70" y1="19.33" x2="365.20" y2="19.33" stroke="#000" stroke-width="1.1" />
<line x1="82.00" y1="397.75" x2="88.00" y2="397.75" stroke="#000" stroke-width="1.1" />
<line x1="368.70" y1="397.75" x2="362.70" y2="397.75" stroke="#000" stroke-width="1.1" />
<line x1="82.00" y1="393.80" x2="94.00" y2="393.80" stroke="#000" stroke-width="1.1" />
<line x1="368.70" y1="393.80" x2="356.70" y2="393.80" stroke="#000" stroke-width="1.1" />
<text x="72.90" y="398.70" font-size="16" text-anchor="end" >0.01</text>
<line x1="82.00" y1="386.96" x2="85.50" y2="386.96" stroke="#000" stroke-width="1.1" />
<line x1="368.70" y1="386.96" x2="365.20" y2="386.96" stroke="#000" stroke-width="1.1" />
<line x1="82.00" y1="381.17" x2="85.50" y2="381.17" stroke="#000" stroke-width="1.1" />
<line x1="368.70" y1="381.17" x2="365.20" y2="381.17" stroke="#000" stroke-width="1.1" />
<line x1="82.00" y1="376.16" x2="85.50" y2="376.16" stroke="#000" stroke-width="1.1" />
<line x1="368.70" y1="376.16" x2="365.20" y2="376.16" stroke="#000" stroke-width="1.1" />
<line x1="82.00" y1="371.74" x2="85.50" y2="371.74" stroke="#000" stroke-width="1.1" />
<line x1="368.70" y1="371.74" x2="365.20" y2="371.74" stroke="#000" stroke-width="1.1" />
<line x1="82.00" y1="367.79" x2="88.00" y2="367.79" stroke="#000" stroke-width="1.1" />
<line x1="368.70" y1="367.79" x2="362.70" y2="367.79" stroke="#000" stroke-width="1.1" />
<text x="80.70" y="371.49" font-size="11" text-anchor="end" >2</text>
<line x1="82.00" y1="352.58" x2="88.00" y2="352.58" stroke="#000" stroke-width="1.1" />
<line x1="368.70" y1="352.58" x2="362.70" y2="352.58" stroke="#000" stroke-width="1.1" />
<line x1="82.00" y1="341.78" x2="88.00" y2="341.78" stroke="#000" stroke-width="1.1" />
<line x1="368.70" y1="341.78" x2="362.70" y2="341.78" stroke="#000" stroke-width="1.1" />
<text x="80.70" y="345.48" font-size="11" text-anchor="end" >4</text>
<line x1="82.00" y1="333.41" x2="88.00" y2="333.41" stroke="#000" stroke-width="1.1" />
<line x1="368.70" y1="333.41" x2="362.70" y2="333.41" stroke="#000" stroke-width="1.1" />
<line x1="82.00" y1="326.57" x2="88.00" y2="326.57" stroke="#000" stroke-width="1.1" />
<line x1="368.70" y1="326.57" x2="362.70" y2="326.57" stroke="#000" stroke-width="1.1" />
<text x="80.70" y="330.27" font-size="11" text-anchor="end" >6</text>
<line x1="82.00" y1="320.78" x2="88.00" y2="320.78" stroke="#000" stroke-width="1.1" />
<line x1="368.70" y1="320.78" x2="362.70" y2="320.78" stroke="#000" stroke-width="1.1" />
<line x1="82.00" y1="315.77" x2="88.00" y2="315.77" stroke="#000" stroke-width="1.1" />
<line x1="368.70" y1="315.77" x2="362.70" y2="315.77" stroke="#000" stroke-width="1.1" />
<line x1="82.00" y1="311.35" x2="88.00" y2="311.35" stroke="#000" stroke-width="1.1" />
<line x1="368.70" y1="311.35" x2="362.70" y2="311.35" stroke="#000" stroke-width="1.1" />
<line x1="82.00" y1="307.40" x2="94.00" y2="307.40" stroke="#000" stroke-width="1.1" />
<line x1="368.70" y1="307.40" x2="356.70" y2="307.40" stroke="#000" stroke-width="1.1" />
<text x="72.90" y="312.30" font-size="16" text-anchor="end" >0.1</text>
<line x1="82.00" y1="300.56" x2="85.50" y2="300.56" stroke="#000" stroke-width="1.1" />
<line x1="368.70" y1="300.56" x2="365.20" y2="300.56" stroke="#000" stroke-width="1.1" />
<line x1="82.00" y1="294.77" x2="85.50" y2="294.77" stroke="#000" stroke-width="1.1" />
<line x1="368.70" y1="294.77" x2="365.20" y2="294.77" stroke="#000" stroke-width="1.1" />
<line x1="82.00" y1="289.76" x2="85.50" y2="289.76" stroke="#000" stroke-width="1.1" />
<line x1="368.70" y1="289.76" x2="365.20" y2="289.76" stroke="#000" stroke-width="1.1" />
<line x1="82.00" y1="285.34" x2="85.50" y2="285.34" stroke="#000" stroke-width="1.1" />
<line x1="368.70" y1="285.34" x2="365.20" y2="285.34" stroke="#000" stroke-width="1.1" />
<line x1="82.00" y1="281.39" x2="88.00" y2="281.39" stroke="#000" stroke-width="1.1" />
<line x1="368.70" y1="281.39" x2="362.70" y2="281.39" stroke="#000" stroke-width="1.1" />
<text x="80.70" y="285.09" font-size="11" text-anchor="end" >2</text>
<line x1="82.00" y1="266.18" x2="88.00" y2="266.18" stroke="#000" stroke-width="1.1" />
<line x1="368.70" y1="266.18" x2="362.70" y2="266.18" stroke="#000" stroke-width="1.1" />
<line x1="82.00" y1="255.38" x2="88.00" y2="255.38" stroke="#000" stroke-width="1.1" />
<line x1="368.70" y1="255.38" x2="362.70" y2="255.38" stroke="#000" stroke-width="1.1" />
<text x="80.70" y="259.08" font-size="11" text-anchor="end" >4</text>
<line x1="82.00" y1="247.01" x2="88.00" y2="247.01" stroke="#000" stroke-width="1.1" />
<line x1="368.70" y1="247.01" x2="362.70" y2="247.01" stroke="#000" stroke-width="1.1" />
<line x1="82.00" y1="240.17" x2="88.00" y2="240.17" stroke="#000" stroke-width="1.1" />
<line x1="368.70" y1="240.17" x2="362.70" y2="240.17" stroke="#000" stroke-width="1.1" />
<text x="80.70" y="243.87" font-size="11" text-anchor="end" >6</text>
<line x1="82.00" y1="234.38" x2="88.00" y2="234.38" stroke="#000" stroke-width="1.1" />
<line x1="368.70" y1="234.38" x2="362.70" y2="234.38" stroke="#000" stroke-width="1.1" />
<line x1="82.00" y1="229.37" x2="88.00" y2="229.37" stroke="#000" stroke-width="1.1" />
<line x1="368.70" y1="229.37" x2="362.70" y2="229.37" stroke="#000" stroke-width="1.1" />
<line x1="82.00" y1="224.95" x2="88.00" y2="224.95" stroke="#000" stroke-width="1.1" />
<line x1="368.70" y1="224.95" x2="362.70" y2="224.95" stroke="#000" stroke-width="1.1" />
<line x1="82.00" y1="221.00" x2="94.00" y2="221.00" stroke="#000" stroke-width="1.1" />
<line x1="368.70" y1="221.00" x2="356.70" y2="221.00" stroke="#000" stroke-width="1.1" />
<text x="72.90" y="225.90" font-size="16" text-anchor="end" >1</text>
<line x1="82.00" y1="214.16" x2="85.50" y2="214.16" stroke="#000" stroke-width="1.1" />
<line x1="368.70" y1="214.16" x2="365.20" y2="214.16" stroke="#000" stroke-width="1.1" />
<line x1="82.00" y1="589.00" x2="94.00" y2="589.00" stroke="#000" stroke-width="1.1" />
<line x1="368.70" y1="589.00" x2="356.70" y2="589.00" stroke="#000" stroke-width="1.1" />
<text x="72.90" y="593.90" font-size="16" text-anchor="end" >0.01</text>
<line x1="82.00" y1="581.91" x2="85.50" y2="581.91" stroke="#000" stroke-width="1.1" />
<line x1="368.70" y1="581.91" x2="365.20" y2="581.91" stroke="#000" stroke-width="1.1" />
<line x1="82.00" y1="575.92" x2="85.50" y2="575.92" stroke="#000" stroke-width="1.1" />
<line x1="368.70" y1="575.92" x2="365.20" y2="575.92" stroke="#000" stroke-width="1.1" />
<line x1="82.00" y1="570.73" x2="85.50" y2="570.73" stroke="#000" stroke-width="1.1" />
<line x1="368.70" y1="570.73" x2="365.20" y2="570.73" stroke="#000" stroke-width="1.1" />
<line x1="82.00" y1="566.15" x2="85.50" y2="566.15" stroke="#000" stroke-width="1.1" />
<line x1="368.70" y1="566.15" x2="365.20" y2="566.15" stroke="#000" stroke-width="1.1" />
<line x1="82.00" y1="562.06" x2="88.00" y2="562.06" stroke="#000" stroke-width="1.1" />
<line x1="368.70" y1="562.06" x2="362.70" y2="562.06" stroke="#000" stroke-width="1.1" />
<text x="80.70" y="565.76" font-size="11" text-anchor="end" >2</text>
<line x1="82.00" y1="546.30" x2="88.00" y2="546.30" stroke="#000" stroke-width="1.1" />
<line x1="368.70" y1="546.30" x2="362.70" y2="546.30" stroke="#000" stroke-width="1.1" />
<line x1="82.00" y1="535.12" x2="88.00" y2="535.12" stroke="#000" stroke-width="1.1" />
<line x1="368.70" y1="535.12" x2="362.70" y2="535.12" stroke="#000" stroke-width="1.1" />
<text x="80.70" y="538.82" font-size="11" text-anchor="end" >4</text>
<line x1="82.00" y1="526.44" x2="88.00" y2="526.44" stroke="#000" stroke-width="1.1" />
<line x1="368.70" y1="526.44" x2="362.70" y2="526.44" stroke="#000" stroke-width="1.1" />
<line x1="82.00" y1="519.36" x2="88.00" y2="519.36" stroke="#000" stroke-width="1.1" />
<line x1="368.70" y1="519.36" x2="362.70" y2="519.36" stroke="#000" stroke-width="1.1" />
<text x="80.70" y="523.06" font-size="11" text-anchor="end" >6</text>
<line x1="82.00" y1="513.36" x2="88.00" y2="513.36" stroke="#000" stroke-width="1.1" />
<line x1="368.70" y1="513.36" x2="362.70" y2="513.36" stroke="#000" stroke-width="1.1" />
<line x1="82.00" y1="508.17" x2="88.00" y2="508.17" stroke="#000" stroke-width="1.1" />
<line x1="368.70" y1="508.17" x2="362.70" y2="508.17" stroke="#000" stroke-width="1.1" />
<line x1="82.00" y1="503.60" x2="88.00" y2="503.60" stroke="#000" stroke-width="1.1" />
<line x1="368.70" y1="503.60" x2="362.70" y2="503.60" stroke="#000" stroke-width="1.1" />
<line x1="82.00" y1="499.50" x2="94.00" y2="499.50" stroke="#000" stroke-width="1.1" />
<line x1="368.70" y1="499.50" x2="356.70" y2="499.50" stroke="#000" stroke-width="1.1" />
<text x="72.90" y="504.40" font-size="16" text-anchor="end" >0.1</text>
<line x1="82.00" y1="492.41" x2="85.50" y2="492.41" stroke="#000" stroke-width="1.1" />
<line x1="368.70" y1="492.41" x2="365.20" y2="492.41" stroke="#000" stroke-width="1.1" />
<line x1="82.00" y1="486.42" x2="85.50" y2="486.42" stroke="#000" stroke-width="1.1" />
<line x1="368.70" y1="486.42" x2="365.20" y2="486.42" stroke="#000" stroke-width="1.1" />
<line x1="82.00" y1="481.23" x2="85.50" y2="481.23" stroke="#000" stroke-width="1.1" />
<line x1="368.70" y1="481.23" x2="365.20" y2="481.23" stroke="#000" stroke-width="1.1" />
<line x1="82.00" y1="476.65" x2="85.50" y2="476.65" stroke="#000" stroke-width="1.1" />
<line x1="368.70" y1="476.65" x2="365.20" y2="476.65" stroke="#000" stroke-width="1.1" />
<line x1="82.00" y1="472.56" x2="88.00" y2="472.56" stroke="#000" stroke-width="1.1" />
<line x1="368.70" y1="472.56" x2="362.70" y2="472.56" stroke="#000" stroke-width="1.1" />
<text x="80.70" y="476.26" font-size="11" text-anchor="end" >2</text>
<line x1="82.00" y1="456.80" x2="88.00" y2="456.80" stroke="#000" stroke-width="1.1" />
<line x1="368.70" y1="456.80" x2="362.70" y2="456.80" stroke="#000" stroke-width="1.1" />
<line x1="82.00" y1="445.62" x2="88.00" y2="445.62" stroke="#000" stroke-width="1.1" />
<line x1="368.70" y1="445.62" x2="362.70" y2="445.62" stroke="#000" stroke-width="1.1" />
<text x="80.70" y="449.32" font-size="11" text-anchor="end" >4</text>
<line x1="82.00" y1="436.94" x2="88.00" y2="436.94" stroke="#000" stroke-width="1.1" />
<line x1="368.70" y1="436.94" x2="362.70" y2="436.94" stroke="#000" stroke-width="1.1" />
<line x1="82.00" y1="429.86" x2="88.00" y2="429.86" stroke="#000" stroke-width="1.1" />
<line x1="368.70" y1="429.86" x2="362.70" y2="429.86" stroke="#000" stroke-width="1.1" />
<text x="80.70" y="433.56" font-size="11" text-anchor="end" >6</text>
<line x1="82.00" y1="423.86" x2="88.00" y2="423.86" stroke="#000" stroke-width="1.1" />
<line x1="368.70" y1="423.86" x2="362.70" y2="423.86" stroke="#000" stroke-width="1.1" />
<line x1="82.00" y1="418.67" x2="88.00" y2="418.67" stroke="#000" stroke-width="1.1" />
<line x1="368.70" y1="418.67" x2="362.70" y2="418.67" stroke="#000" stroke-width="1.1" />
<line x1="82.00" y1="414.10" x2="88.00" y2="414.10" stroke="#000" stroke-width="1.1" />
<line x1="368.70" y1="414.10" x2="362.70" y2="414.10" stroke="#000" stroke-width="1.1" />
<line x1="82.00" y1="410.00" x2="94.00" y2="410.00" stroke="#000" stroke-width="1.1" />
<line x1="368.70" y1="410.00" x2="356.70" y2="410.00" stroke="#000" stroke-width="1.1" />
<text x="72.90" y="414.90" font-size="16" text-anchor="end" >1</text>
<line x1="82.00" y1="402.91" x2="85.50" y2="402.91" stroke="#000" stroke-width="1.1" />
<line x1="368.70" y1="402.91" x2="365.20" y2="402.91" stroke="#000" stroke-width="1.1" />
<text x="83.10" y="620" font-size="16">10<tspan font-size="10.5" dy="-8.4" dx="0.3">6</tspan></text>
<text x="166.03" y="620" font-size="16">10<tspan font-size="10.5" dy="-8.4" dx="0.3">7</tspan></text>
<text x="248.96" y="620" font-size="16">10<tspan font-size="10.5" dy="-8.4" dx="0.3">8</tspan></text>
<text x="331.89" y="620" font-size="16">10<tspan font-size="10.5" dy="-8.4" dx="0.3">9</tspan></text>
<text x="225.90" y="645.00" font-size="16" text-anchor="middle" letter-spacing="0.07">Electric Field&#160;&#160;[V/m]</text>
<text transform="translate(29,305.3) rotate(-90)" font-size="16" text-anchor="middle" letter-spacing="0.07">Polaron Pair Dissociation Yield</text>
<text x="101.00" y="36.70" font-size="16" text-anchor="start" >(a)</text>
<text x="102.00" y="371.00" font-size="16" text-anchor="start" >(b)</text>
<text x="102.20" y="568.30" font-size="16" text-anchor="start" >(c)</text>
<text x="312.80" y="128.30" font-size="16"><tspan font-family="Liberation Serif" font-size="17">τ</tspan><tspan font-size="10.5" dy="2.5">eff</tspan><tspan dy="-2.5"></tspan></text>
<line x1="283.70" y1="141.30" x2="308.90" y2="141.30" stroke="#FF0000" stroke-width="2.05" />
<rect x="292.20" y="137.50" width="7.6" height="7.6" fill="none" stroke="#FF0000" stroke-width="1.1"/>
<text x="315.30" y="145.60" font-size="16" text-anchor="start" >1ns</text>
<line x1="283.70" y1="157.50" x2="308.90" y2="157.50" stroke="#006400" stroke-width="2.05" />
<circle cx="296.00" cy="157.50" r="4" fill="none" stroke="#006400" stroke-width="1.1"/>
<text x="315.30" y="161.80" font-size="16" text-anchor="start" >100ns</text>
<line x1="283.70" y1="174.10" x2="308.90" y2="174.10" stroke="#0A289F" stroke-width="2.05" />
<polygon points="296.00,169.80 291.40,177.70 300.60,177.70" fill="none" stroke="#0A289F" stroke-width="1.1"/>
<text x="315.30" y="178.40" font-size="16" text-anchor="start" >10<tspan font-family="Liberation Serif" font-size="17">μ</tspan>s</text>
<line x1="283.70" y1="190.70" x2="308.90" y2="190.70" stroke="#7800FF" stroke-width="2.05" />
<polygon points="296.00,185.30 291.00,190.70 296.00,196.10 301.00,190.70" fill="none" stroke="#7800FF" stroke-width="1.1"/>
<text x="315.30" y="195.00" font-size="16" text-anchor="start" >1ms</text>
<text x="226.30" y="178.50" font-size="16" text-anchor="start" >CL=1</text>
<text x="226.8" y="195.8" word-spacing="0.6" font-size="16"><tspan font-family="Liberation Serif" font-size="17">ε</tspan> = 3.0</text>
<text x="327.50" y="315.80" font-size="16" text-anchor="start" >CL</text>
<line x1="298.20" y1="328.00" x2="323.80" y2="328.00" stroke="#000" stroke-width="2.2" />
<text x="331.20" y="332.30" font-size="16" text-anchor="start" >1</text>
<line x1="298.20" y1="344.40" x2="323.80" y2="344.40" stroke="#006400" stroke-width="2.2" stroke-dasharray="10.3 9.9"/>
<text x="331.20" y="348.70" font-size="16" text-anchor="start" >2</text>
<line x1="298.20" y1="360.60" x2="323.80" y2="360.60" stroke="#FF4500" stroke-width="2.2" stroke-dasharray="5.9 6.25"/>
<text x="331.20" y="364.90" font-size="16" text-anchor="start" >4</text>
<line x1="298.20" y1="376.90" x2="323.80" y2="376.90" stroke="#0000FF" stroke-width="2.2" stroke-dasharray="2.2 1.9"/>
<text x="331.20" y="381.20" font-size="16" text-anchor="start" >10</text>
<text x="217.30" y="362.50" font-size="16"><tspan font-family="Liberation Serif" font-size="17">τ</tspan><tspan font-size="10.5" dy="2.5">eff</tspan><tspan dy="-2.5"> = 1<tspan font-family="Liberation Serif" font-size="17">μ</tspan>s</tspan></text>
<text x="217.3" y="380.7" font-size="16"><tspan font-family="Liberation Serif" font-size="17">ε</tspan> = 3.0</text>
<text x="324.20" y="447.50" font-size="16" text-anchor="start" >CL</text>
<line x1="290.00" y1="459.70" x2="301.80" y2="459.70" stroke="#000" stroke-width="2.2" />
<text x="324.30" y="464.10" font-size="16" text-anchor="start" >1</text>
<line x1="287.60" y1="475.60" x2="310.30" y2="475.60" stroke="#FF0000" stroke-width="2.1" stroke-dasharray="9.4 3.7"/>
<text x="324.30" y="480.00" font-size="16" text-anchor="start" >4</text>
<line x1="288.30" y1="490.50" x2="309.20" y2="490.50" stroke="#0000FF" stroke-width="2.1" stroke-dasharray="2.2 1.9"/>
<text x="324.30" y="495.40" font-size="16" text-anchor="start" >10</text>
<text x="312.80" y="531.40" font-size="16"><tspan font-family="Liberation Serif" font-size="17">τ</tspan><tspan font-size="10.5" dy="2.5">eff</tspan><tspan dy="-2.5"></tspan></text>
<circle cx="296.00" cy="545.30" r="4" fill="none" stroke="#000" stroke-width="0.9"/>
<text x="315.30" y="549.70" font-size="16" text-anchor="start" >100ns</text>
<polygon points="296.2,555.9 291.2,564.4 301.2,564.4" fill="none" stroke="#000" stroke-width="0.9"/>
<text x="315.30" y="565.40" font-size="16" text-anchor="start" >10<tspan font-family="Liberation Serif" font-size="17">μ</tspan>s</text>
<text x="223.0" y="564.9" font-size="16"><tspan font-family="Liberation Serif" font-size="17">ε</tspan> = 3.7</text>
</svg>
</body></html>
